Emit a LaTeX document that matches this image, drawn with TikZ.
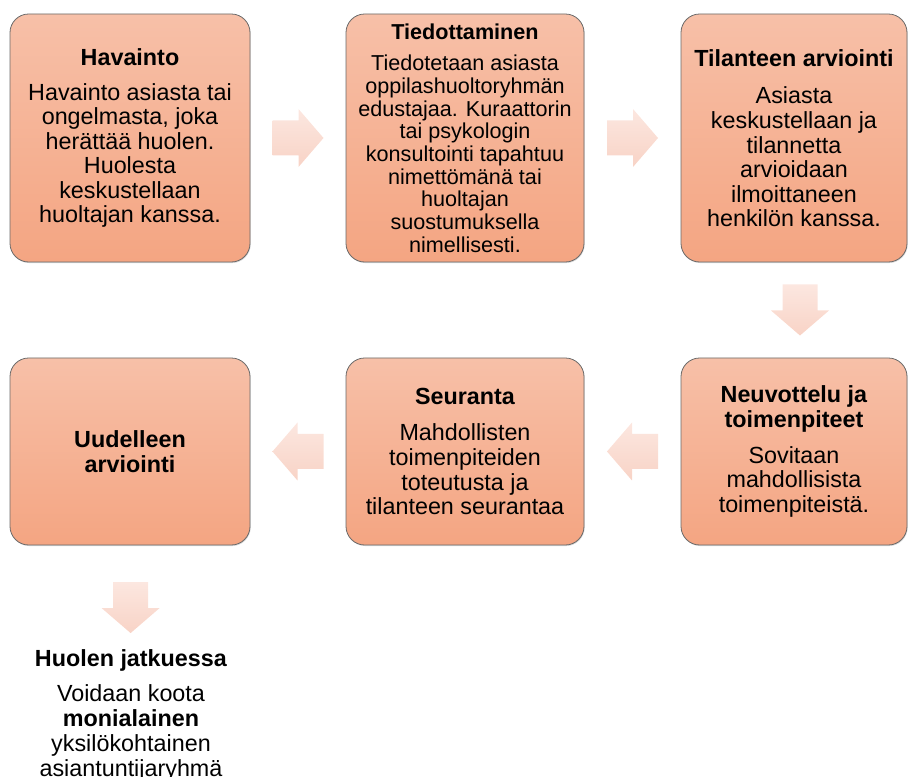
\documentclass[tikz,border=0pt]{standalone}
\usepackage{fontspec}
\setmainfont{Liberation Sans}
\usetikzlibrary{calc,shadows}

\definecolor{boxtop}{RGB}{247,192,168}
\definecolor{boxbot}{RGB}{244,165,130}
\definecolor{boxline}{RGB}{105,105,105}
\definecolor{arrowtop}{RGB}{252,231,224}
\definecolor{arrowbot}{RGB}{248,211,198}

\tikzset{
  stagebox/.style 2 args={draw=boxline, line width=0.6pt, rounded corners=14pt,
    top color=boxtop, bottom color=boxbot, align=center, inner sep=2pt,
    minimum width=#1, minimum height=#2,
    drop shadow={opacity=0.3, shadow xshift=0.5pt, shadow yshift=-0.8pt},
    font=\fontsize{17.5}{18.4}\selectfont},
  arrowfill/.style={top color=arrowtop, bottom color=arrowbot, draw=none}
}

% block arrow at a point, turned by an angle
\newcommand{\flowarrow}[2]{%
  \begin{scope}[shift={#1}, rotate=#2]
    \path[arrowfill] (-25.5,-17.5) -- (0.5,-17.5) -- (0.5,-29) -- (25.5,0)
      -- (0.5,29) -- (0.5,17.5) -- (-25.5,17.5) -- cycle;
  \end{scope}}

\begin{document}
\begin{tikzpicture}[x=0.75pt, y=0.75pt]
  % page frame
  \useasboundingbox (0,0) rectangle (908,776);

  % top row
  \node[stagebox={180pt}{186pt}] (havainto) at (130,638)
    {\textbf{Havainto}\\[8pt]
     Havainto asiasta tai\\ongelmasta, joka\\herättää huolen.\\Huolesta\\keskustellaan\\huoltajan kanssa.};
  \node[stagebox={178.5pt}{186pt}, font=\fontsize{16.2}{17}\selectfont] (tiedotus) at (465,638)
    {\textbf{Tiedottaminen}\\[6.5pt]
     Tiedotetaan asiasta\\oppilashuoltoryhmän\\edustajaa. Kuraattorin\\tai psykologin\\konsultointi tapahtuu\\nimettömänä tai\\huoltajan\\suostumuksella\\nimellisesti.};
  \node[stagebox={169.5pt}{186pt}] (tilanne) at (794,638)
    {\textbf{Tilanteen arviointi}\\[10pt]
     Asiasta\\keskustellaan ja\\tilannetta\\arvioidaan\\ilmoittaneen\\henkilön kanssa.};

  % bottom row
  \node[stagebox={169.5pt}{140.25pt}] (neuvottelu) at (794,324.5)
    {\textbf{Neuvottelu ja}\\[0.3pt]\textbf{toimenpiteet}\\[8pt]
     Sovitaan\\mahdollisista\\toimenpiteistä.};
  \node[stagebox={178.5pt}{140.25pt}] (seuranta) at (465,324.5)
    {\textbf{Seuranta}\\[9pt]
     Mahdollisten\\toimenpiteiden\\toteutusta ja\\tilanteen seurantaa};
  \node[stagebox={180pt}{140.25pt}] (uudelleen) at (130,324.5)
    {\textbf{Uudelleen}\\\textbf{arviointi}};

  % text under the last step
  \node[anchor=north, align=center, inner sep=0pt, font=\fontsize{17.5}{18.75}\selectfont] (huoli) at (131,127)
    {\textbf{Huolen jatkuessa}\\[8pt]
     Voidaan koota\\\textbf{monialainen}\\yksilökohtainen\\asiantuntijaryhmä};

  % arrows between the steps
  \flowarrow{($(havainto.east)!0.5!(tiedotus.west)$)}{0}
  \flowarrow{($(tiedotus.east)!0.5!(tilanne.west)$)}{0}
  \flowarrow{($(tilanne.south)!0.5!(neuvottelu.north)+(6,0)$)}{-90}
  \flowarrow{($(neuvottelu.west)!0.5!(seuranta.east)$)}{180}
  \flowarrow{($(seuranta.west)!0.5!(uudelleen.east)$)}{180}
  \flowarrow{($(uudelleen.south)!0.6!(huoli.north)$)}{-90}
\end{tikzpicture}
\end{document}
